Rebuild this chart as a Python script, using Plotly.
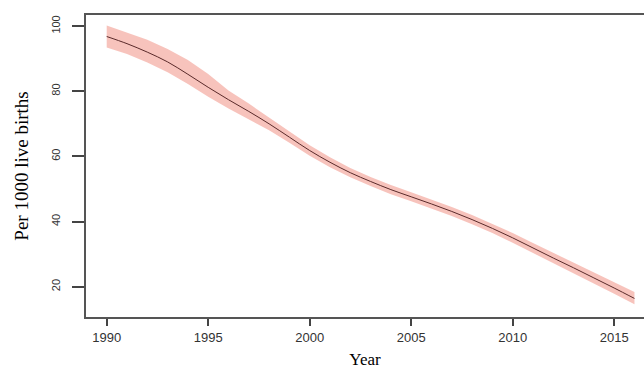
import plotly.graph_objects as go

years = list(range(1990, 2017))
rate = [96.8, 94.6, 92.0, 89.0, 85.2, 81.2, 77.4, 73.8, 70.0, 65.9, 61.8, 58.2, 55.0,
        52.3, 49.8, 47.6, 45.4, 43.1, 40.6, 37.9, 35.0, 31.9, 28.8, 25.8, 22.7, 19.6, 16.4]
upper = [100.2, 98.1, 95.8, 93.0, 89.6, 85.3, 80.2, 76.2, 72.0, 67.6, 63.4, 59.7, 56.4,
         53.7, 51.2, 49.0, 46.8, 44.5, 42.0, 39.3, 36.5, 33.4, 30.4, 27.4, 24.4, 21.4, 18.4]
lower = [93.4, 91.4, 88.8, 85.8, 82.2, 78.3, 74.7, 71.4, 68.0, 64.2, 60.2, 56.7, 53.6,
         50.9, 48.4, 46.2, 44.0, 41.7, 39.2, 36.5, 33.5, 30.4, 27.2, 24.2, 21.0, 17.8, 14.6]

x_ticks = [1990, 1995, 2000, 2005, 2010, 2015]
y_ticks = [20, 40, 60, 80, 100]

fig = go.Figure()
fig.add_trace(go.Scatter(x=years, y=upper, mode="lines", line=dict(width=0),
                         hoverinfo="skip", showlegend=False))
fig.add_trace(go.Scatter(x=years, y=lower, mode="lines", line=dict(width=0),
                         fill="tonexty", fillcolor="rgba(244,170,160,0.7)",
                         hoverinfo="skip", showlegend=False))
fig.add_trace(go.Scatter(x=years, y=rate, mode="lines", line=dict(color="#5a2a2a", width=1),
                         line_shape="spline", showlegend=False))

fig.update_layout(
    width=644, height=372,
    margin=dict(l=86, r=0, t=15, b=55),
    paper_bgcolor="white", plot_bgcolor="white",
    xaxis=dict(range=[1988.98, 2016.47], tickvals=x_ticks, ticks="outside", ticklen=7,
               tickcolor="#444", tickwidth=1.5, showline=True, linecolor="#555", linewidth=2,
               mirror=True, showgrid=False, zeroline=False, automargin=False,
               ticklabelstandoff=0,
               tickfont=dict(family="Liberation Sans", size=13, color="#333"),
               title=dict(text="Year", font=dict(family="Liberation Serif", size=17, color="black"),
                          standoff=10)),
    yaxis=dict(range=[10.7, 103.4], tickvals=y_ticks, ticks="outside", ticklen=12,
               tickcolor="#444", tickwidth=1.5, showline=True, linecolor="#555", linewidth=2,
               showgrid=False, zeroline=False, tickangle=-90, ticklabelstandoff=8,
               automargin=False,
               tickfont=dict(family="Liberation Sans", size=11, color="#333"),
               title=dict(text="Per 1000 live births",
                          font=dict(family="Liberation Serif", size=19, color="black"),
                          standoff=16)),
)

fig.write_html("out.html", config={"displayModeBar": False},
               post_script="document.body.style.margin='0';document.body.style.overflow='hidden';")
